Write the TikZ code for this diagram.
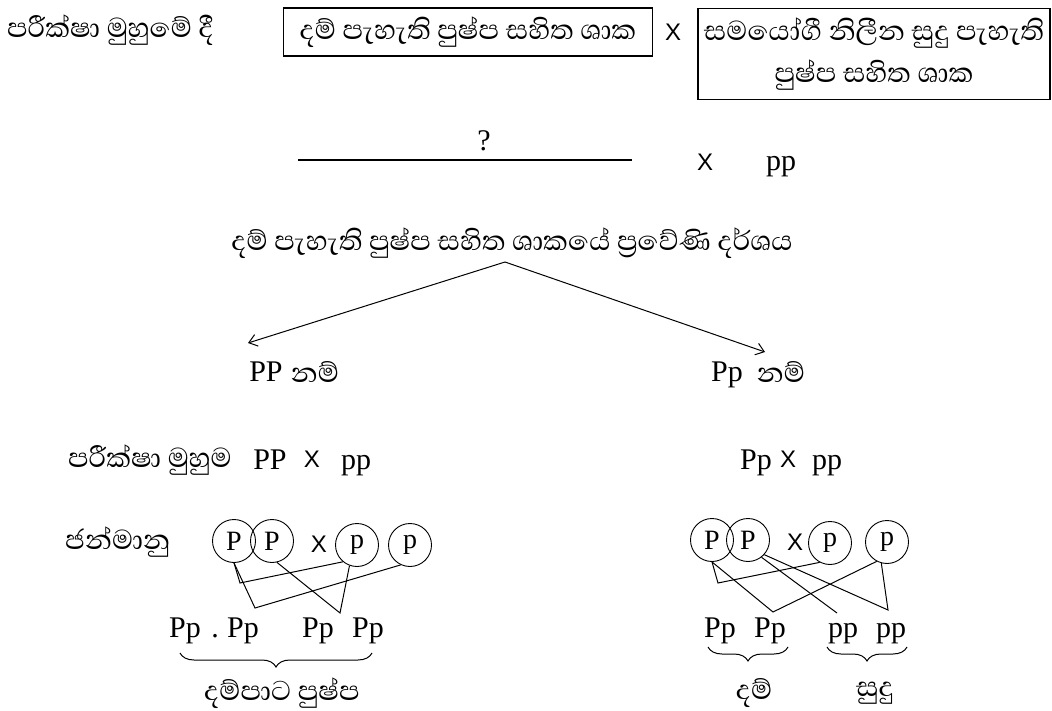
\documentclass[tikz,border=0pt]{standalone}
\usepackage{fontspec}
\setmainfont{Liberation Serif}
\newfontfamily\sinhfont[Script=Sinhala]{Abhaya Libre}
\newfontfamily\sansx{Liberation Sans}
\usetikzlibrary{arrows.meta,decorations.pathreplacing}
\begin{document}
\begin{tikzpicture}[x=1pt,y=-1pt,
  sn/.style={font=\sinhfont\fontsize{35}{42}\selectfont, inner sep=0pt},
  lt/.style={font=\fontsize{30}{36}\selectfont, inner sep=0pt, anchor=base},
  xs/.style={font=\sansx\fontsize{24}{30}\selectfont, inner sep=0pt},
  boxx/.style={draw, line width=1.3pt, inner sep=0pt, align=center},
  gam/.style={circle, draw, line width=0.9pt, minimum size=43pt, inner sep=0pt, font=\fontsize{28}{30}\selectfont},
  link/.style={line width=1pt},
  arr/.style={line width=1pt, -{Straight Barb[length=8pt,width=12pt]}},
  brc/.style={decorate, decoration={brace, mirror, amplitude=14pt}, line width=1pt}]
\useasboundingbox (0,0) rectangle (1052,711);
% top row
\node[sn, anchor=west] (t1) at (7,30) {පරීක්ෂා මුහුමේ දී};
\node[boxx, minimum width=369pt, minimum height=48pt] (b1) at (468,32) {};
\node[sn] (b1t) at (b1.center) {දම් පැහැති පුෂ්ප සහිත ශාක};
\node[xs] (x1) at (673,32) {X};
\node[boxx, minimum width=352pt, minimum height=91pt] (b2) at (874,54) {};
\node[sn, align=center] (b2t) at (b2.center) {සමයෝගී නිලීන සුදු පැහැති\\පුෂ්ප සහිත ශාක};
% unknown line
\coordinate (q1) at (298,160);
\coordinate (q2) at (632,160);
\draw[line width=1.5pt] (q1) -- (q2);
\node[lt] (qm) at (484,151) {?};
\node[xs] (x2) at (705,162) {X};
\node[lt] (pp0) at (781,171) {pp};
% genotype
\node[sn] (geno) at (512,243) {දම් පැහැති පුෂ්ප සහිත ශාකයේ ප්‍රවේණි දර්ශය};
\coordinate (apex) at (505,262);
\coordinate (la) at (248,343);
\coordinate (ra) at (765,352);
\draw[arr] (apex) -- (la);
\draw[arr] (apex) -- (ra);
% if PP / Pp
\node[lt] (PPa) at (266,381) {PP};
\node[sn] (nam1) at (315,372) {නම්};
\node[lt] (Ppa) at (727,381) {Pp};
\node[sn] (nam2) at (781,372) {නම්};
% test cross
\node[sn, anchor=west] (tc) at (68,460) {පරීක්ෂා මුහුම};
\node[lt] (PPb) at (270,469) {PP};
\node[xs] (x3) at (312,459) {X};
\node[lt] (ppb) at (356,469) {pp};
\node[lt] (Ppb) at (756,469) {Pp};
\node[xs] (x4) at (788,459) {X};
\node[lt] (ppc) at (827,469) {pp};
% gametes label
\node[sn, anchor=west] (gm) at (65,542) {ජන්මානු};
% left gametes
\node[gam] (LP1) at (234,541) {P};
\node[gam] (LP2) at (272,541) {P};
\node[xs] (x5) at (319,544) {X};
\node[gam] (Lp1) at (357,545) {p};
\node[gam] (Lp2) at (410,545) {p};
\coordinate (a1) at (240,583);
\coordinate (a2) at (255,608);
\coordinate (a3) at (340,613);
\draw[link] (LP1.south) -- (a1) -- (Lp1.-130);
\draw[link] (LP1.south) -- (a2) -- (Lp2.-115);
\draw[link] (LP2.-77) -- (a3) -- (Lp1.-110);
% right gametes
\node[gam] (RP1) at (712,540) {P};
\node[gam] (RP2) at (748,540) {P};
\node[xs] (x6) at (795,542) {X};
\node[gam] (Rp1) at (830,543) {p};
\node[gam] (Rp2) at (887,542) {p};
\coordinate (c1) at (718,583);
\coordinate (c2) at (773,612);
\coordinate (c3) at (837,613);
\coordinate (c4) at (888,610);
\draw[link] (RP1.south) -- (c1) -- (Rp1.-118);
\draw[link] (RP1.south) -- (c2) -- (Rp2.-118);
\draw[link] (RP2.-52) -- (c3);
\draw[link] (RP2.-42) -- (c4) -- (Rp2.-105);
% offspring left
\node[lt] (o1) at (185,637) {Pp};
\node[lt] (dot) at (215,637) {.};
\node[lt] (o2) at (243,637) {Pp};
\node[lt] (o3) at (318,637) {Pp};
\node[lt] (o4) at (368,637) {Pp};
\coordinate (bl1) at (180,653);
\coordinate (bl2) at (372,653);
\draw[brc] (bl1) -- (bl2);
\node[sn] (lab1) at (282,693) {දම්පාට පුෂ්ප};
% offspring right
\node[lt] (r1) at (720,637) {Pp};
\node[lt] (r2) at (770,637) {Pp};
\node[lt] (r3) at (843,637) {pp};
\node[lt] (r4) at (891,637) {pp};
\coordinate (br1) at (708,647);
\coordinate (br2) at (788,647);
\coordinate (br3) at (827,647);
\coordinate (br4) at (907,647);
\draw[brc] (br1) -- (br2);
\draw[brc] (br3) -- (br4);
\node[sn] (lab2) at (754,693) {දම්};
\node[sn] (lab3) at (875,693) {සුදු};
\end{tikzpicture}
\end{document}
